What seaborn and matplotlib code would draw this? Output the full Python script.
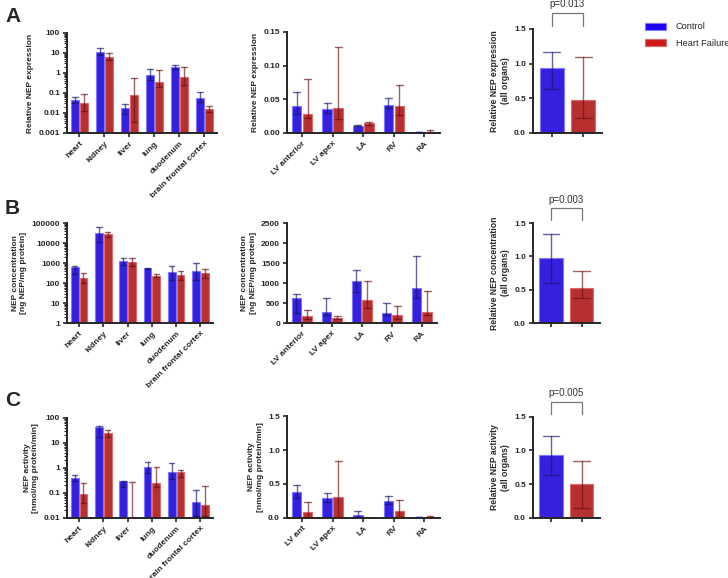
"""NEP expression, concentration and activity in control vs heart failure."""

import numpy as np
import pandas as pd
import seaborn as sns
import matplotlib.pyplot as plt
from matplotlib.patches import Patch
from matplotlib.ticker import FuncFormatter, LogLocator, NullFormatter, MultipleLocator

# --- data -----------------------------------------------------------------
groups = ["Control", "Heart Failure"]
organs = ["heart", "kidney", "liver", "lung", "duodenum", "brain frontal cortex"]
heart_regions = ["LV anterior", "LV apex", "LA", "RV", "RA"]
heart_regions_c = ["LV ant", "LV apex", "LA", "RV", "RA"]

# A: relative NEP expression (mean, lower, upper)
a_org_ctrl = [0.042, 11.0, 0.017, 0.75, 2.0, 0.058]
a_org_ctrl_lo = [0.030, 8.0, 0.009, 0.45, 1.5, 0.035]
a_org_ctrl_hi = [0.060, 17.0, 0.028, 1.6, 2.4, 0.11]
a_org_hf = [0.030, 6.5, 0.080, 0.37, 0.60, 0.016]
a_org_hf_lo = [0.013, 4.5, 0.0035, 0.20, 0.25, 0.011]
a_org_hf_hi = [0.090, 10.0, 0.55, 1.4, 2.0, 0.022]

a_hrt_ctrl = [0.040, 0.035, 0.011, 0.042, 0.0012]
a_hrt_ctrl_lo = [0.028, 0.030, 0.011, 0.037, 0.001]
a_hrt_ctrl_hi = [0.060, 0.044, 0.012, 0.052, 0.002]
a_hrt_hf = [0.028, 0.037, 0.014, 0.040, 0.002]
a_hrt_hf_lo = [0.022, 0.021, 0.012, 0.026, 0.001]
a_hrt_hf_hi = [0.080, 0.128, 0.016, 0.071, 0.004]

a_all = [0.93, 0.47]
a_all_lo = [0.63, 0.22]
a_all_hi = [1.17, 1.10]

# B: NEP concentration
b_org_ctrl = [650, 32000, 1300, 560, 350, 400]
b_org_ctrl_lo = [300, 12000, 800, 520, 150, 150]
b_org_ctrl_hi = [700, 65000, 1700, 600, 750, 1050]
b_org_hf = [170, 28000, 1100, 230, 250, 330]
b_org_hf_lo = [100, 20000, 700, 200, 150, 180]
b_org_hf_hi = [330, 35000, 1800, 270, 400, 530]

b_hrt_ctrl = [620, 290, 1050, 260, 870]
b_hrt_ctrl_lo = [250, 200, 780, 200, 620]
b_hrt_ctrl_hi = [720, 640, 1330, 510, 1690]
b_hrt_hf = [180, 140, 570, 200, 290]
b_hrt_hf_lo = [110, 100, 390, 100, 200]
b_hrt_hf_hi = [330, 190, 1060, 430, 800]

b_all = [0.97, 0.52]
b_all_lo = [0.60, 0.37]
b_all_hi = [1.34, 0.78]

# C: NEP activity
c_org_ctrl = [0.39, 45.0, 0.31, 1.05, 0.68, 0.042]
c_org_ctrl_lo = [0.30, 18.0, 0.17, 0.65, 0.35, 0.012]
c_org_ctrl_hi = [0.50, 48.0, 0.31, 1.75, 1.5, 0.13]
c_org_hf = [0.09, 24.0, 0.01, 0.25, 0.68, 0.033]
c_org_hf_lo = [0.04, 18.0, 0.01, 0.17, 0.45, 0.012]
c_org_hf_hi = [0.24, 32.0, 0.28, 1.1, 0.85, 0.19]

c_hrt_ctrl = [0.38, 0.29, 0.04, 0.25, 0.02]
c_hrt_ctrl_lo = [0.30, 0.23, 0.01, 0.21, 0.01]
c_hrt_ctrl_hi = [0.49, 0.37, 0.10, 0.33, 0.02]
c_hrt_hf = [0.09, 0.31, 0.005, 0.10, 0.02]
c_hrt_hf_lo = [0.0, 0.02, 0.0, 0.02, 0.01]
c_hrt_hf_hi = [0.24, 0.84, 0.005, 0.27, 0.035]

c_all = [0.93, 0.50]
c_all_lo = [0.64, 0.15]
c_all_hi = [1.22, 0.84]

p_values = ["p=0.013", "p=0.003", "p=0.005"]

# --- style ----------------------------------------------------------------
BAR_COLORS = ["#1e00ff", "#cc1a1a"]
EDGE_COLORS = ["#7f77ff", "#e06a6a"]
ERR_COLORS = ["#14146a", "#6a0f0f"]
TICK_FS = 6.0
LABEL_FS = 6.0

sns.set_style("ticks")
plt.rcParams["font.family"] = ["Liberation Sans", "DejaVu Sans"]
plt.rcParams["font.weight"] = "bold"
plt.rcParams["axes.labelweight"] = "bold"
plt.rcParams["axes.linewidth"] = 1.4
plt.rcParams["xtick.major.width"] = 1.2
plt.rcParams["ytick.major.width"] = 1.2
plt.rcParams["xtick.major.size"] = 3
plt.rcParams["ytick.major.size"] = 3
plt.rcParams["ytick.minor.size"] = 2.2
plt.rcParams["ytick.minor.width"] = 0.8
plt.rcParams["axes.labelpad"] = 3


def add_errors(ax, lows, highs):
    for container, lo, hi, col in zip(ax.containers, lows, highs, ERR_COLORS):
        for bar, l, h in zip(container, lo, hi):
            xc = bar.get_x() + bar.get_width() / 2
            cap = bar.get_width() * 0.35
            ax.plot([xc, xc], [l, h], color=col, lw=1.0, alpha=0.65, zorder=5)
            for yv in (l, h):
                ax.plot([xc - cap, xc + cap], [yv, yv], color=col, lw=1.0,
                        alpha=0.65, zorder=5)


def style_bars(ax):
    for container, ec in zip(ax.containers, EDGE_COLORS):
        for bar in container:
            bar.set_edgecolor(ec)


def grouped_panel(ax, cats, ctrl, hf, lows, highs, log=False):
    df = pd.DataFrame({
        "cat": cats * 2,
        "val": list(ctrl) + list(hf),
        "grp": [groups[0]] * len(cats) + [groups[1]] * len(cats),
    })
    sns.barplot(data=df, x="cat", y="val", hue="grp", palette=BAR_COLORS,
                width=0.72, gap=0.12, errorbar=None, legend=False, ax=ax,
                linewidth=0.8, zorder=2)
    style_bars(ax)
    if log:
        ax.set_yscale("log")
    add_errors(ax, lows, highs)
    ax.set_xlim(-0.5, len(cats) - 0.5)
    ax.set_xlabel("")
    ax.tick_params(axis="both", labelsize=TICK_FS, pad=2)
    plt.setp(ax.get_xticklabels(), rotation=45, ha="right",
             rotation_mode="anchor")
    sns.despine(ax=ax)


def summary_panel(ax, vals, lo, hi, ylabel, ptext):
    df = pd.DataFrame({"grp": groups, "val": vals})
    sns.barplot(data=df, x="grp", y="val", hue="grp", palette=BAR_COLORS,
                width=0.77, errorbar=None, legend=False, ax=ax,
                linewidth=0.8, zorder=2)
    style_bars(ax)
    add_errors(ax, [[lo[0]], [lo[1]]], [[hi[0]], [hi[1]]])
    ax.set_xlim(-0.6, 1.6)
    ax.set_ylim(0, 1.5)
    ax.yaxis.set_major_locator(MultipleLocator(0.5))
    ax.yaxis.set_major_formatter(FuncFormatter(lambda v, _: f"{v:.1f}"))
    ax.set_xticks([0, 1])
    ax.set_xticklabels(["", ""])
    ax.set_xlabel("")
    ax.set_ylabel(ylabel, fontsize=6.2, linespacing=1.3)
    ax.tick_params(axis="y", labelsize=TICK_FS, pad=2)
    tr = ax.get_xaxis_transform()
    ax.plot([0, 0, 1, 1], [1.03, 1.15, 1.15, 1.03], color="#777777", lw=0.9,
            transform=tr, clip_on=False)
    ax.text(0.5, 1.235, ptext, transform=tr, ha="center", va="center",
            fontsize=7, fontweight="normal", color="#333333")
    sns.despine(ax=ax)


def log_axis(ax, lo, hi):
    ax.set_ylim(lo, hi)
    ax.yaxis.set_major_locator(LogLocator(base=10, numticks=12))
    ax.yaxis.set_minor_locator(LogLocator(base=10, subs=np.arange(2, 10),
                                          numticks=12))
    ax.yaxis.set_major_formatter(FuncFormatter(lambda v, _: f"{v:g}"))
    ax.yaxis.set_minor_formatter(NullFormatter())


fig = plt.figure(figsize=(7.28, 5.78), dpi=100)

rows = {"A": 0.770, "B": 0.441, "C": 0.104}
h = 0.173

# --- row A ----------------------------------------------------------------
ax = fig.add_axes([0.092, rows["A"], 0.206, h])
grouped_panel(ax, organs, a_org_ctrl, a_org_hf,
              [a_org_ctrl_lo, a_org_hf_lo], [a_org_ctrl_hi, a_org_hf_hi], log=True)
log_axis(ax, 0.001, 100)
ax.set_ylabel("Relative NEP expression", fontsize=LABEL_FS)

ax = fig.add_axes([0.394, rows["A"], 0.210, 0.175])
grouped_panel(ax, heart_regions, a_hrt_ctrl, a_hrt_hf,
              [a_hrt_ctrl_lo, a_hrt_hf_lo], [a_hrt_ctrl_hi, a_hrt_hf_hi])
ax.set_ylim(0, 0.15)
ax.yaxis.set_major_locator(MultipleLocator(0.05))
ax.yaxis.set_major_formatter(FuncFormatter(lambda v, _: f"{v:.2f}"))
ax.set_ylabel("Relative NEP expression", fontsize=LABEL_FS)

ax = fig.add_axes([0.732, rows["A"], 0.095, 0.180])
summary_panel(ax, a_all, a_all_lo, a_all_hi,
              "Relative NEP expression\n(all organs)", p_values[0])

# --- row B ----------------------------------------------------------------
ax = fig.add_axes([0.092, rows["B"], 0.200, h])
grouped_panel(ax, organs, b_org_ctrl, b_org_hf,
              [b_org_ctrl_lo, b_org_hf_lo], [b_org_ctrl_hi, b_org_hf_hi], log=True)
log_axis(ax, 1, 100000)
ax.set_ylabel("NEP concentration\n[ng NEP/mg protein]", fontsize=LABEL_FS,
              linespacing=1.3)

ax = fig.add_axes([0.394, rows["B"], 0.206, h])
grouped_panel(ax, heart_regions, b_hrt_ctrl, b_hrt_hf,
              [b_hrt_ctrl_lo, b_hrt_hf_lo], [b_hrt_ctrl_hi, b_hrt_hf_hi])
ax.set_ylim(0, 2500)
ax.yaxis.set_major_locator(MultipleLocator(500))
ax.set_ylabel("NEP concentration\n[ng NEP/mg protein]", fontsize=LABEL_FS,
              linespacing=1.3)

ax = fig.add_axes([0.732, rows["B"], 0.092, h])
summary_panel(ax, b_all, b_all_lo, b_all_hi,
              "Relative NEP concentration\n(all organs)", p_values[1])

# --- row C ----------------------------------------------------------------
ax = fig.add_axes([0.092, rows["C"], 0.200, h])
grouped_panel(ax, organs, c_org_ctrl, c_org_hf,
              [c_org_ctrl_lo, c_org_hf_lo], [c_org_ctrl_hi, c_org_hf_hi], log=True)
log_axis(ax, 0.01, 100)
ax.set_ylabel("NEP activity\n[nmol/mg protein/min]", fontsize=LABEL_FS,
              linespacing=1.3)

ax = fig.add_axes([0.394, rows["C"], 0.210, 0.176])
grouped_panel(ax, heart_regions_c, c_hrt_ctrl, c_hrt_hf,
              [c_hrt_ctrl_lo, c_hrt_hf_lo], [c_hrt_ctrl_hi, c_hrt_hf_hi])
ax.set_ylim(0, 1.5)
ax.yaxis.set_major_locator(MultipleLocator(0.5))
ax.yaxis.set_major_formatter(FuncFormatter(lambda v, _: f"{v:.1f}"))
ax.set_ylabel("NEP activity\n[nmol/mg protein/min]", fontsize=LABEL_FS,
              linespacing=1.3)

ax = fig.add_axes([0.732, rows["C"], 0.092, 0.175])
summary_panel(ax, c_all, c_all_lo, c_all_hi,
              "Relative NEP activity\n(all organs)", p_values[2])

# --- panel letters and legend --------------------------------------------
for letter, y in zip("ABC", [17, 208, 400]):
    fig.text(5 / 728, 1 - y / 578, letter, fontsize=15, fontweight="bold",
             va="center", ha="left")

handles = [Patch(facecolor=fc, edgecolor=ec, linewidth=0.8)
           for fc, ec in zip(BAR_COLORS, EDGE_COLORS)]
fig.legend(handles, groups, loc="upper left",
           bbox_to_anchor=(637 / 728, 1 - 14 / 578), frameon=False,
           prop={"size": 6.6, "weight": "normal"},
           handlelength=2.3, handleheight=0.8, labelspacing=0.85,
           handletextpad=1.0)

fig.savefig("out.png", dpi=100)
